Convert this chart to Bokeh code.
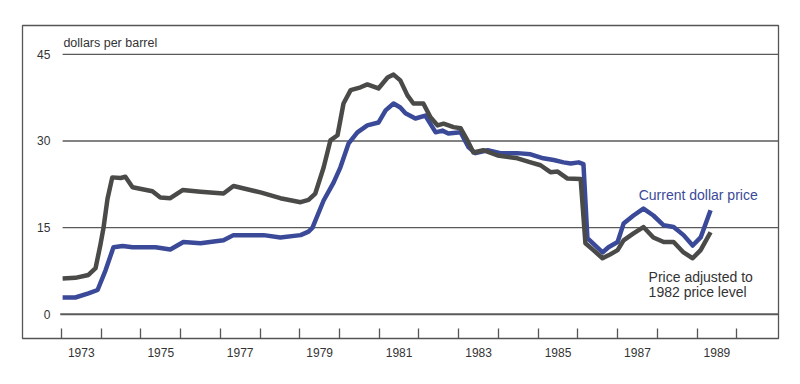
from bokeh.plotting import figure
from bokeh.models import FixedTicker, Range1d
from bokeh.core.properties import value
from bokeh.embed import file_html
from bokeh.resources import INLINE

# Price adjusted to 1982 price level (decimal year, dollars per barrel)
real_years = [1973.03, 1973.35, 1973.68, 1973.86, 1973.98, 1974.06, 1974.16, 1974.28, 1974.49,
              1974.61, 1974.79, 1975.29, 1975.49, 1975.74, 1976.05, 1976.50, 1977.08, 1977.33,
              1978.01, 1978.51, 1979.02, 1979.22, 1979.39, 1979.60, 1979.77, 1979.95, 1980.10,
              1980.28, 1980.53, 1980.70, 1980.98, 1981.21, 1981.36, 1981.53, 1981.71, 1981.86,
              1982.11, 1982.29, 1982.47, 1982.62, 1982.87, 1983.05, 1983.22, 1983.37, 1983.62,
              1983.98, 1984.48, 1984.81, 1985.06, 1985.31, 1985.49, 1985.74, 1986.07, 1986.19,
              1986.39, 1986.62, 1986.77, 1987.00, 1987.15, 1987.40, 1987.65, 1987.90, 1988.16,
              1988.41, 1988.66, 1988.89, 1989.09, 1989.34]
real_price = [6.2, 6.3, 6.8, 8.0, 12.0, 15.0, 20.0, 23.7, 23.6,
              23.8, 22.0, 21.3, 20.2, 20.1, 21.5, 21.2, 20.9, 22.2,
              21.1, 20.1, 19.4, 19.8, 20.9, 25.4, 30.1, 31.0, 36.5,
              38.8, 39.3, 39.8, 39.1, 41.0, 41.5, 40.5, 37.9, 36.5,
              36.5, 34.1, 32.7, 33.0, 32.4, 32.2, 30.1, 28.0, 28.4,
              27.5, 27.0, 26.3, 25.8, 24.6, 24.7, 23.5, 23.4, 12.3,
              11.1, 9.7, 10.2, 11.1, 12.8, 14.0, 15.1, 13.3, 12.5,
              12.5, 10.7, 9.7, 11.1, 14.2]

# Current dollar price
nominal_years = [1973.03, 1973.35, 1973.68, 1973.91, 1974.11, 1974.31, 1974.54, 1974.79, 1975.37,
                 1975.74, 1976.07, 1976.50, 1977.08, 1977.33, 1978.09, 1978.51, 1979.02, 1979.22,
                 1979.32, 1979.60, 1979.85, 1980.02, 1980.23, 1980.45, 1980.70, 1980.98, 1981.16,
                 1981.36, 1981.53, 1981.66, 1981.91, 1982.16, 1982.42, 1982.59, 1982.74, 1983.05,
                 1983.25, 1983.42, 1983.73, 1984.05, 1984.48, 1984.81, 1985.13, 1985.39, 1985.64,
                 1985.82, 1986.02, 1986.14, 1986.24, 1986.44, 1986.62, 1986.77, 1987.00, 1987.15,
                 1987.40, 1987.65, 1987.90, 1988.16, 1988.41, 1988.66, 1988.89, 1989.09, 1989.34]
nominal_price = [2.9, 2.9, 3.6, 4.2, 7.6, 11.6, 11.8, 11.6, 11.6,
                 11.2, 12.5, 12.3, 12.8, 13.7, 13.7, 13.3, 13.7, 14.3,
                 15.0, 19.7, 22.8, 25.4, 29.6, 31.5, 32.7, 33.2, 35.3,
                 36.5, 35.8, 34.8, 33.9, 34.4, 31.5, 31.8, 31.3, 31.5,
                 28.9, 27.9, 28.4, 27.9, 27.9, 27.7, 27.0, 26.7, 26.3,
                 26.1, 26.3, 26.0, 13.2, 11.9, 10.7, 11.6, 12.5, 15.7,
                 17.1, 18.3, 17.1, 15.4, 15.1, 13.7, 11.9, 13.3, 18.0]

y_ticks = [0, 15, 30, 45]
year_boundaries = list(range(1973, 1991))
label_years = [1973, 1975, 1977, 1979, 1981, 1983, 1985, 1987, 1989]

FONT = "Liberation Sans"
GRID = "#5a5a5a"
BLUE = "#3b4a98"
GRAY = "#4a4a48"

p = figure(width=782, height=376, output_backend="svg", toolbar_location=None,
           x_range=Range1d(1972.02, 1991.05), y_range=Range1d(-4.2, 50.0),
           y_axis_location=None, min_border_left=22, min_border_top=25,
           min_border_right=4, min_border_bottom=38)
p.frame_width = 756
p.frame_height = 313
p.xgrid.visible = False
p.ygrid.visible = False
p.outline_line_color = "#555555"
p.outline_line_width = 1.3
p.background_fill_color = "white"
p.border_fill_color = "white"

# horizontal gridlines
for t in y_ticks:
    x0 = 1972.97 if t == 0 else 1973.03
    p.segment(x0=[x0], y0=[t], x1=[1991.05], y1=[t], line_color=GRID,
              line_width=2.0 if t == 0 else 1.3)

# y tick labels (inside frame)
p.text(x=[1972.72] * len(y_ticks), y=y_ticks, text=[str(t) for t in y_ticks],
       text_align="right", text_baseline="middle", text_font=value(FONT),
       text_font_size="12px", text_color="#333333")

# x axis: tick marks at year boundaries, labels at mid-year
xa = p.xaxis[0]
xa.ticker = FixedTicker(ticks=[y + 0.5 for y in label_years], minor_ticks=year_boundaries)
xa.major_label_overrides = {y + 0.5: str(y) for y in label_years}
xa.axis_line_color = None
xa.major_tick_line_color = None
xa.major_tick_in = 0
xa.major_tick_out = 0
xa.minor_tick_line_color = "#555555"
xa.minor_tick_line_width = 1.3
xa.minor_tick_in = 10
xa.minor_tick_out = 0
xa.major_label_standoff = 9
xa.major_label_text_font = FONT
xa.major_label_text_font_size = "12px"
xa.major_label_text_color = "#333333"

# series
p.line(nominal_years, nominal_price, line_color=BLUE, line_width=4.5, line_join="round")
p.line(real_years, real_price, line_color=GRAY, line_width=4.5, line_join="round")

# annotations
p.text(x=[1973.05], y=[46.9], text=["dollars per barrel"], text_baseline="middle",
       text_font=value(FONT), text_font_size="12.5px", text_color="#333333")
p.text(x=[1987.53], y=[20.6], text=["Current dollar price"], text_baseline="middle",
       text_font=value(FONT), text_font_size="14px", text_color=BLUE)
p.text(x=[1987.78, 1987.78], y=[6.4, 3.8], text=["Price adjusted to", "1982 price level"],
       text_baseline="middle", text_font=value(FONT), text_font_size="14px",
       text_color="#333333")

open("out.html", "w").write(file_html(p, INLINE))
